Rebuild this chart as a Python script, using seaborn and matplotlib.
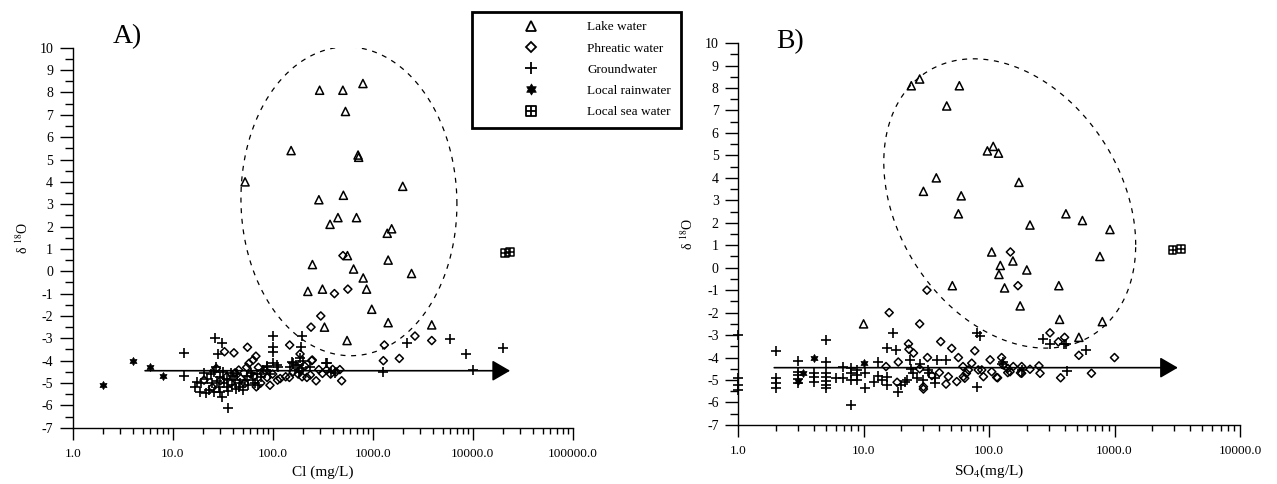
import numpy as np
import seaborn as sns
import matplotlib.pyplot as plt
from matplotlib.path import Path
from matplotlib.lines import Line2D
from matplotlib.ticker import (FuncFormatter, LogLocator, MultipleLocator,
                               NullFormatter)

sns.set_style('ticks')
plt.rcParams['font.family'] = ['Liberation Serif', 'DejaVu Serif']
plt.rcParams['mathtext.fontset'] = 'stix'
plt.rcParams['axes.unicode_minus'] = False
for key in ['axes.edgecolor', 'xtick.color', 'ytick.color', 'text.color', 'axes.labelcolor']:
    plt.rcParams[key] = 'black'

# ---------------- data: panel A (Cl, mg/L) ----------------
lake_cl = [53, 153, 295, 504, 800, 535, 715, 725, 2000, 290, 510, 450, 690, 375, 1400,
           1550, 560, 1430, 2450, 250, 645, 805, 225, 315, 870, 980, 1430, 330, 3900, 555]
lake_o18_a = [4.0, 5.4, 8.1, 8.1, 8.4, 7.15, 5.2, 5.1, 3.8, 3.2, 3.4, 2.4, 2.4, 2.1, 1.7,
              1.9, 0.7, 0.5, -0.1, 0.3, 0.1, -0.3, -0.9, -0.8, -0.8, -1.7, -2.3, -2.5, -2.4, -3.1]

phreatic_cl = [505, 415, 565, 303, 242, 56, 148, 1310, 2650, 3900, 1280, 1850, 68, 188, 246,
               470, 490, 272, 119, 147, 94, 33, 41,
               20.6, 27.3, 34.6, 45.8, 52.7, 58, 63.7, 68.7, 80.5, 112, 135, 188, 197, 238,
               315, 346, 398, 249, 38, 42, 48, 60, 72, 76, 85, 100, 160, 210, 30, 25, 55,
               65, 88, 180, 220, 290, 380, 430]
phreatic_o18_a = [0.7, -1.0, -0.8, -2.0, -2.5, -3.4, -3.3, -3.3, -2.9, -3.1, -4.0, -3.9, -3.8, -3.7, -4.0,
                  -4.4, -4.9, -4.9, -4.8, -4.75, -5.1, -3.6, -3.65,
                  -4.87, -4.35, -4.72, -4.42, -5.02, -4.12, -3.97, -5.17, -4.57, -4.87, -4.72, -4.42, -4.72, -4.64,
                  -4.57, -4.42, -4.39, -3.97, -5.0, -4.55, -4.8, -4.6, -4.3, -5.0, -4.45, -4.6, -4.5, -4.25, -4.9, -5.2, -4.3,
                  -4.7, -4.75, -4.6, -4.75, -4.4, -4.6, -4.5]

ground_cl = [13, 13, 26.5, 31.4, 28.7, 36, 102, 195, 102, 102, 190, 2200, 6000, 1280, 8600,
             20000, 10200, 110, 87, 342, 160, 170,
             16.8, 18.8, 20.6, 21.6, 24.9, 27.3, 30, 31.5, 34.6, 38, 41.7, 45.8, 52.7, 60.8,
             66.7, 76.9, 88.5, 100, 112, 155, 188, 197, 238, 346, 380, 417,
             19, 22, 23, 24, 26, 28, 29, 32, 33, 35, 36, 39, 40, 43, 44, 47, 50, 55, 57,
             63, 70, 72, 80, 95, 150, 180, 185, 200, 26, 30, 17.5]
ground_o18_a = [-3.67, -4.68, -3.0, -3.2, -3.7, -6.1, -2.9, -2.9, -3.4, -3.6, -3.4, -3.2, -3.05, -4.5, -3.7,
                -3.45, -4.4, -4.2, -4.25, -4.12, -4.1, -4.2,
                -5.17, -5.39, -4.57, -5.46, -5.02, -4.27, -4.72, -5.61, -5.17, -4.57, -4.87, -5.17, -4.87, -4.57,
                -5.02, -4.72, -4.27, -4.12, -4.27, -4.05, -3.9, -4.35, -4.27, -4.12, -4.5, -4.57,
                -5.0, -4.8, -5.3, -4.6, -5.4, -4.9, -5.2, -4.5, -5.0, -4.8, -5.35, -5.1, -4.7, -5.25, -4.6, -5.0, -5.3, -4.7, -5.1,
                -4.85, -4.6, -5.1, -4.4, -4.6, -4.3, -4.2, -4.5, -4.0, -4.5, -5.4, -4.95]

rain_cl = [2.0, 4.0, 6.0, 8.1]
rain_o18_a = [-5.1, -4.0, -4.3, -4.7]

sea_cl = [21000, 23500]
sea_o18_a = [0.8, 0.85]

# ---------------- data: panel B (SO4, mg/L) ----------------
lake_so4 = [24, 28, 58, 46, 97, 108, 119, 38, 30, 60, 57, 173, 212, 410, 555,
            920, 765, 105, 155, 123, 120, 200, 133, 51, 360, 177, 10, 365, 800, 520]
lake_o18_b = [8.1, 8.4, 8.1, 7.2, 5.2, 5.4, 5.1, 4.0, 3.4, 3.2, 2.4, 3.8, 1.9, 2.4, 2.1,
              1.7, 0.5, 0.7, 0.3, 0.1, -0.3, -0.1, -0.9, -0.8, -0.8, -1.7, -2.5, -2.3, -2.4, -3.1]

phreatic_so4 = [148, 170, 32, 16, 28, 306, 400, 357, 520, 1000, 655, 372,
                22.8, 23, 25, 32.3, 41.2, 50.4, 57, 77, 102, 126, 15.1, 18.9, 18.5, 30, 30,
                40.2, 45.4, 47.4, 55.3, 62.4, 68.4, 72.8, 87.5, 90.2, 105,
                130, 147, 156, 182, 182, 212, 250, 255, 82, 115, 66, 62, 64, 117, 141, 141, 178, 35, 28]
phreatic_o18_b = [0.7, -0.8, -1.0, -2.0, -2.5, -2.9, -3.1, -3.3, -3.9, -4.0, -4.7, -4.9,
                  -3.39, -3.63, -3.8, -4.0, -3.29, -3.59, -4.0, -3.7, -4.1, -4.0, -4.4, -4.2, -5.1, -5.3, -5.4,
                  -4.67, -5.18, -4.85, -5.07, -4.85, -4.55, -4.25, -4.55, -4.85, -4.63,
                  -4.33, -4.63, -4.4, -4.4, -4.7, -4.52, -4.37, -4.7, -4.55, -4.88, -4.7, -4.4, -4.92, -4.9, -4.48, -4.67, -4.68, -4.8, -4.5]

ground_so4 = [1, 1, 1, 1, 2, 2, 2, 2, 3, 3, 3, 3, 3, 4, 4, 4, 5, 5, 5, 5, 5, 5, 5, 6, 6.9, 6.9,
              8, 8, 8, 8, 8.9, 8.9, 8.9, 10.2, 10.2, 12, 13, 13, 14, 15.3, 15.3, 17.3, 15.3, 18.2,
              18.9, 21.4, 23.5, 24, 25, 26.5, 32.8, 37, 38.3, 45, 37, 80, 85, 80, 271, 306, 395,
              408, 593, 421, 126, 130, 182, 20, 22, 28, 30, 33]
ground_o18_b = [-3.0, -4.93, -5.2, -5.44, -3.7, -4.92, -5.14, -5.37, -4.15, -4.63, -4.78, -4.97, -5.15,
                -4.7, -4.88, -5.07, -3.2, -4.18, -4.7, -4.85, -5.03, -5.22, -5.37, -4.92, -4.4, -4.92,
                -4.48, -4.7, -5.0, -6.1, -4.55, -4.77, -5.0, -4.7, -5.37, -5.07, -4.21, -4.82, -5.0, -5.22,
                -4.88, -2.92, -3.56, -3.66, -5.52, -5.07, -4.1, -4.52, -4.7, -4.92, -4.55, -4.92, -4.1, -4.1,
                -5.15, -2.9, -3.04, -5.29, -3.18, -3.39, -3.39, -3.39, -3.66, -4.58, -4.3, -4.2, -4.55,
                -5.2, -5.0, -4.3, -5.0, -4.7]

rain_so4 = [3.0, 4.0, 10.0, 3.3]
rain_o18_b = [-5.05, -4.0, -4.25, -4.7]

sea_so4 = [2900, 3400]
sea_o18_b = [0.8, 0.85]

legend_labels = ['Lake water', 'Phreatic water', 'Groundwater', 'Local rainwater', 'Local sea water']

# ---------------- custom markers ----------------
ang = np.deg2rad(np.arange(12) * 30 + 90)
rad = np.where(np.arange(12) % 2 == 0, 1.0, 0.58)
pts = np.column_stack([rad * np.cos(ang), rad * np.sin(ang)])
HEXAGRAM = Path(np.vstack([pts, pts[:1]]), closed=True)
BOXPLUS = Path([(-1, -1), (1, -1), (1, 1), (-1, 1), (-1, -1), (0, -1), (0, 1), (-1, 0), (1, 0)],
               [Path.MOVETO, Path.LINETO, Path.LINETO, Path.LINETO, Path.CLOSEPOLY,
                Path.MOVETO, Path.LINETO, Path.MOVETO, Path.LINETO])

styles = [
    dict(marker='^', s=34, facecolor='none', edgecolor='black', linewidth=1.1),
    dict(marker='D', s=17, facecolor='none', edgecolor='black', linewidth=1.1),
    dict(marker='+', s=46, linewidth=1.2),
    dict(marker=HEXAGRAM, s=34, facecolor='black', edgecolor='black', linewidth=0.5),
    dict(marker=BOXPLUS, s=32, facecolor='none', edgecolor='black', linewidth=1.1),
]


def draw_ellipse(ax, cx_dec, cy, half_dec, half_y, phi_deg):
    t = np.linspace(0, 2 * np.pi, 300)
    xd = cx_dec + half_dec * np.cos(t)
    yd = cy + half_y * np.cos(t - np.deg2rad(phi_deg))
    ax.plot(10 ** xd, yd, color='black', lw=0.9, linestyle=(0, (4, 4.5)), zorder=1)


def draw_arrow(ax, x0, x1, y):
    ax.annotate('', xy=(x1, y), xytext=(x0, y),
                arrowprops=dict(arrowstyle='-|>,head_length=0.55,head_width=0.32',
                                mutation_scale=20, color='black', lw=1.2,
                                shrinkA=0, shrinkB=0), zorder=2)


def style_axis(ax, xmax, xlabel):
    ax.set_xscale('log')
    ax.set_xlim(1, xmax)
    ax.set_ylim(-7, 10)
    ax.xaxis.set_major_locator(LogLocator(base=10, numticks=12))
    ax.xaxis.set_minor_locator(LogLocator(base=10, subs=np.arange(2, 10), numticks=100))
    ax.xaxis.set_major_formatter(FuncFormatter(lambda v, p: f'{v:.1f}'))
    ax.xaxis.set_minor_formatter(NullFormatter())
    ax.yaxis.set_major_locator(MultipleLocator(1))
    ax.yaxis.set_minor_locator(MultipleLocator(0.5))
    ax.yaxis.set_major_formatter(FuncFormatter(lambda v, p: f'{int(round(v))}'))
    sns.despine(ax=ax)
    for sp in ['left', 'bottom']:
        ax.spines[sp].set_linewidth(1.0)
    ax.tick_params(axis='x', which='major', length=8.4, width=1, pad=6, labelsize=9.5)
    ax.tick_params(axis='x', which='minor', length=4, width=1)
    ax.tick_params(axis='y', which='major', length=9.5, width=1, pad=4.5, labelsize=10)
    ax.tick_params(axis='y', which='minor', length=5.5, width=1)
    ax.set_xlabel(xlabel, fontsize=11, labelpad=4)
    ax.set_ylabel(r'δ $^{18}$O', fontsize=10, labelpad=6)
    ax.grid(False)


fig = plt.figure(figsize=(12.77, 4.84), dpi=100)
ax_a = fig.add_axes([0.0569, 0.1163, 0.3915, 0.785])
ax_b = fig.add_axes([0.578, 0.122, 0.393, 0.789])

panels = [
    (ax_a, [(lake_cl, lake_o18_a), (phreatic_cl, phreatic_o18_a), (ground_cl, ground_o18_a),
            (rain_cl, rain_o18_a), (sea_cl, sea_o18_a)]),
    (ax_b, [(lake_so4, lake_o18_b), (phreatic_so4, phreatic_o18_b), (ground_so4, ground_o18_b),
            (rain_so4, rain_o18_b), (sea_so4, sea_o18_b)]),
]

for ax, series in panels:
    for (xs, ys), st in zip(series, styles):
        sns.scatterplot(x=xs, y=ys, ax=ax, color='black', clip_on=False, zorder=3, **st)

draw_ellipse(ax_a, 2.763, 3.13, 1.08, 6.91, 91)
draw_ellipse(ax_b, 2.165, 2.86, 1.004, 6.44, 106.6)
draw_arrow(ax_a, 5.3, 23700, -4.45)
draw_arrow(ax_b, 1.94, 3200, -4.45)

style_axis(ax_a, 100000, 'Cl (mg/L)')
style_axis(ax_b, 10000, r'SO$_4$(mg/L)')

fig.text(113 / 1277, 1 - 24 / 484, 'A)', fontsize=20, va='top')
fig.text(776 / 1277, 1 - 29 / 484, 'B)', fontsize=20, va='top')

handles = [
    Line2D([], [], ls='none', marker='^', markersize=7.5, mfc='none', mec='black', mew=1.3),
    Line2D([], [], ls='none', marker='D', markersize=5.3, mfc='none', mec='black', mew=1.3),
    Line2D([], [], ls='none', marker='+', markersize=9, mec='black', mew=1.3),
    Line2D([], [], ls='none', marker=HEXAGRAM, markersize=8, mfc='black', mec='black', mew=0.5),
    Line2D([], [], ls='none', marker=BOXPLUS, markersize=7.5, mfc='none', mec='black', mew=1.3),
]
leg = fig.legend(handles, legend_labels, loc='upper left',
                 bbox_to_anchor=(471.7 / 1277, 1 - 11.7 / 484),
                 fontsize=9.5, frameon=True, fancybox=False, framealpha=1,
                 edgecolor='black', borderpad=0.72, handlelength=7.6,
                 handletextpad=0.45, labelspacing=0.68, borderaxespad=0)
leg.get_frame().set_linewidth(2)

fig.savefig('out.png', dpi=100)
